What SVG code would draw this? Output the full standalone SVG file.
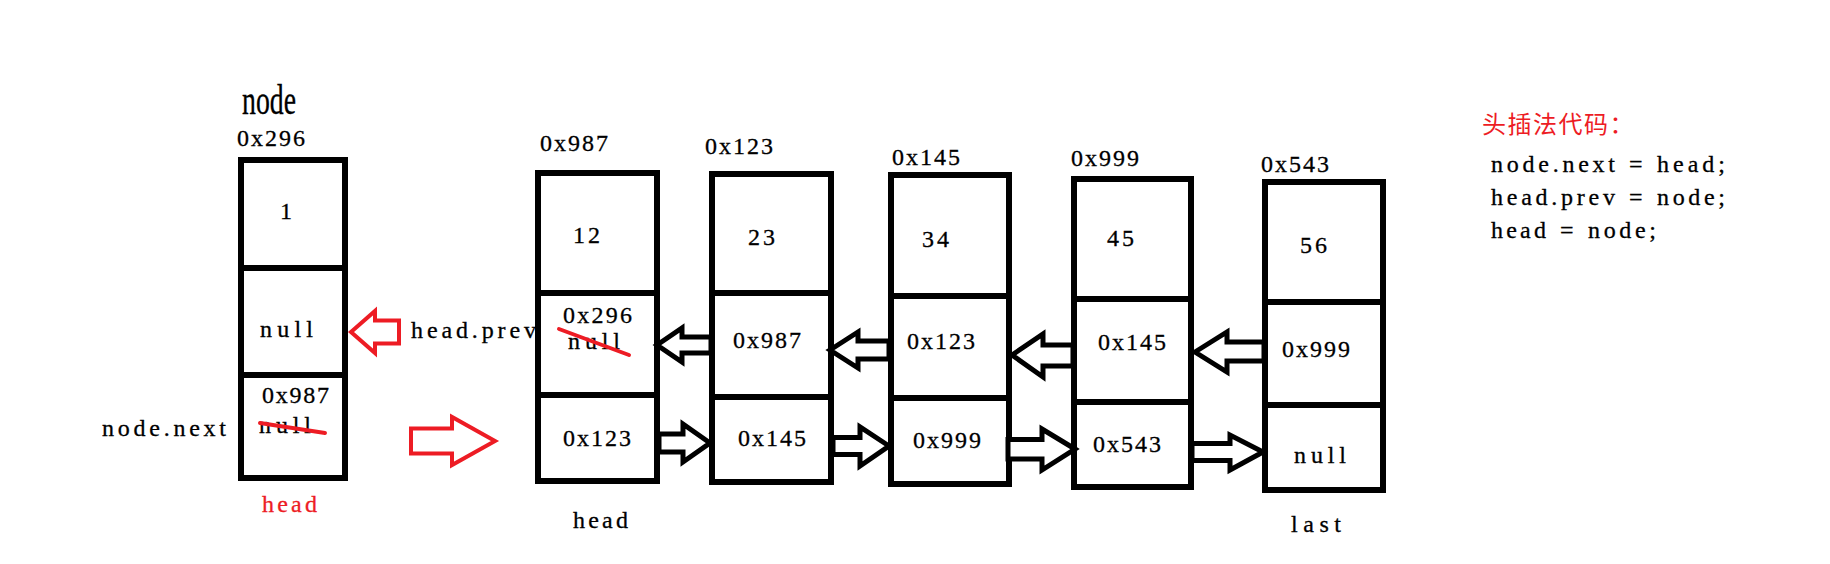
<svg xmlns="http://www.w3.org/2000/svg" width="1830" height="564" viewBox="0 0 1830 564">
<style>
.bg{fill:#fff}
.box{fill:#fff;stroke:#000;stroke-width:6}
.div{stroke:#000;stroke-width:6}
.t{font-family:"Liberation Serif",serif;font-size:24px;fill:#000;stroke:#000;stroke-width:0.3px}
.r{fill:#ED1C24;stroke:#ED1C24}
.big{font-size:42px}
.arr{fill:#fff;stroke:#000;stroke-width:5;stroke-linejoin:miter}
.rarr{fill:#fff;stroke:#ED1C24;stroke-width:4;stroke-linejoin:miter}
.strike{stroke:#ED1C24;stroke-width:4;stroke-linecap:round}
.cjk{font-family:"Liberation Serif","Noto Sans CJK SC",sans-serif;font-size:24px;fill:#ED1C24;letter-spacing:1.5px}
</style>
<rect class="bg" x="0" y="0" width="1830" height="564"/>

<g id="node-new">
  <text class="t big" x="242" y="114" textLength="54" lengthAdjust="spacingAndGlyphs">node</text>
  <text class="t" x="237" y="146" textLength="68" lengthAdjust="spacing">0x296</text>
  <rect class="box" x="241" y="160" width="104" height="318"/>
  <line class="div" x1="241" y1="268" x2="345" y2="268"/>
  <line class="div" x1="241" y1="375" x2="345" y2="375"/>
  <text class="t" x="280" y="219">1</text>
  <text class="t" x="260" y="337" textLength="53" lengthAdjust="spacing">null</text>
  <text class="t" x="262" y="403" textLength="67" lengthAdjust="spacing">0x987</text>
  <text class="t" x="259" y="433" textLength="52" lengthAdjust="spacing">null</text>
  <line class="strike" x1="260" y1="423" x2="325" y2="433"/>
  <text class="t r" x="262" y="512" textLength="55" lengthAdjust="spacing">head</text>
</g>

<g id="label-node-next">
  <text class="t" x="102" y="436" textLength="124" lengthAdjust="spacing">node.next</text>
</g>
<g id="label-head-prev">
  <text class="t" x="411" y="338" textLength="125" lengthAdjust="spacing">head.prev</text>
</g>

<g id="node-0x987">
  <text class="t" x="540" y="151" textLength="68" lengthAdjust="spacing">0x987</text>
  <rect class="box" x="538" y="173" width="119" height="308"/>
  <line class="div" x1="538" y1="293" x2="657" y2="293"/>
  <line class="div" x1="538" y1="395" x2="657" y2="395"/>
  <text class="t" x="573" y="243" textLength="27" lengthAdjust="spacing">12</text>
  <text class="t" x="563" y="323" textLength="69" lengthAdjust="spacing">0x296</text>
  <text class="t" x="568" y="349" textLength="52" lengthAdjust="spacing">null</text>
  <line class="strike" x1="559" y1="329" x2="629" y2="355"/>
  <text class="t" x="563" y="446" textLength="68" lengthAdjust="spacing">0x123</text>
  <text class="t" x="573" y="528" textLength="55" lengthAdjust="spacing">head</text>
</g>

<g id="node-0x123">
  <text class="t" x="705" y="154" textLength="68" lengthAdjust="spacing">0x123</text>
  <rect class="box" x="712" y="174" width="119" height="308"/>
  <line class="div" x1="712" y1="293" x2="831" y2="293"/>
  <line class="div" x1="712" y1="397" x2="831" y2="397"/>
  <text class="t" x="748" y="245" textLength="27" lengthAdjust="spacing">23</text>
  <text class="t" x="733" y="348" textLength="68" lengthAdjust="spacing">0x987</text>
  <text class="t" x="738" y="446" textLength="68" lengthAdjust="spacing">0x145</text>
</g>

<g id="node-0x145">
  <text class="t" x="892" y="165" textLength="68" lengthAdjust="spacing">0x145</text>
  <rect class="box" x="891" y="175" width="118" height="309"/>
  <line class="div" x1="891" y1="296" x2="1009" y2="296"/>
  <line class="div" x1="891" y1="398" x2="1009" y2="398"/>
  <text class="t" x="922" y="247" textLength="27" lengthAdjust="spacing">34</text>
  <text class="t" x="907" y="349" textLength="68" lengthAdjust="spacing">0x123</text>
  <text class="t" x="913" y="448" textLength="68" lengthAdjust="spacing">0x999</text>
</g>

<g id="node-0x999">
  <text class="t" x="1071" y="166" textLength="68" lengthAdjust="spacing">0x999</text>
  <rect class="box" x="1074" y="179" width="117" height="308"/>
  <line class="div" x1="1074" y1="299" x2="1191" y2="299"/>
  <line class="div" x1="1074" y1="402" x2="1191" y2="402"/>
  <text class="t" x="1107" y="246" textLength="27" lengthAdjust="spacing">45</text>
  <text class="t" x="1098" y="350" textLength="68" lengthAdjust="spacing">0x145</text>
  <text class="t" x="1093" y="452" textLength="68" lengthAdjust="spacing">0x543</text>
</g>

<g id="node-0x543">
  <text class="t" x="1261" y="172" textLength="68" lengthAdjust="spacing">0x543</text>
  <rect class="box" x="1265" y="182" width="118" height="308"/>
  <line class="div" x1="1265" y1="302" x2="1383" y2="302"/>
  <line class="div" x1="1265" y1="405" x2="1383" y2="405"/>
  <text class="t" x="1300" y="253" textLength="27" lengthAdjust="spacing">56</text>
  <text class="t" x="1282" y="357" textLength="68" lengthAdjust="spacing">0x999</text>
  <text class="t" x="1294" y="463" textLength="52" lengthAdjust="spacing">null</text>
  <text class="t" x="1291" y="532" textLength="50" lengthAdjust="spacing">last</text>
</g>

<g id="connectors">
  <polygon class="rarr" points="351,332 375,311 375,320.5 399,320.5 399,343.5 375,343.5 375,353"/>
  <polygon class="rarr" points="495,441 452,417 452,428.5 411,428.5 411,453.5 452,453.5 452,465"/>
  <polygon class="arr" points="657,345 682,328 682,337 711,337 711,353 682,353 682,362"/>
  <polygon class="arr" points="830,350 858,332 858,341 889,341 889,359 858,359 858,368"/>
  <polygon class="arr" points="1012,355 1043,334 1043,345 1073,345 1073,366 1043,366 1043,377"/>
  <polygon class="arr" points="1195,352 1227,332 1227,342 1264,342 1264,361 1227,361 1227,372"/>
  <polygon class="arr" points="710,443 683,424 683,434 659,434 659,452 683,452 683,462"/>
  <polygon class="arr" points="889,446 860,427 860,437.5 833,437.5 833,454.5 860,454.5 860,466"/>
  <polygon class="arr" points="1075,449 1042,429 1042,439.5 1008,439.5 1008,459 1042,459 1042,470"/>
  <polygon class="arr" points="1263,452 1230,435 1230,443.5 1192,443.5 1192,460.5 1230,460.5 1230,470"/>
</g>

<g id="code">
  <text class="cjk" x="1482" y="133">头插法代码：</text>
  <text class="t" x="1491" y="172" textLength="124" lengthAdjust="spacing">node.next</text>
  <text class="t" x="1629" y="172">=</text>
  <text class="t" x="1657" y="172" textLength="68" lengthAdjust="spacing">head;</text>
  <text class="t" x="1491" y="205" textLength="124" lengthAdjust="spacing">head.prev</text>
  <text class="t" x="1629" y="205">=</text>
  <text class="t" x="1657" y="205" textLength="68" lengthAdjust="spacing">node;</text>
  <text class="t" x="1491" y="238" textLength="55" lengthAdjust="spacing">head</text>
  <text class="t" x="1560" y="238">=</text>
  <text class="t" x="1588" y="238" textLength="68" lengthAdjust="spacing">node;</text>
</g>
</svg>
